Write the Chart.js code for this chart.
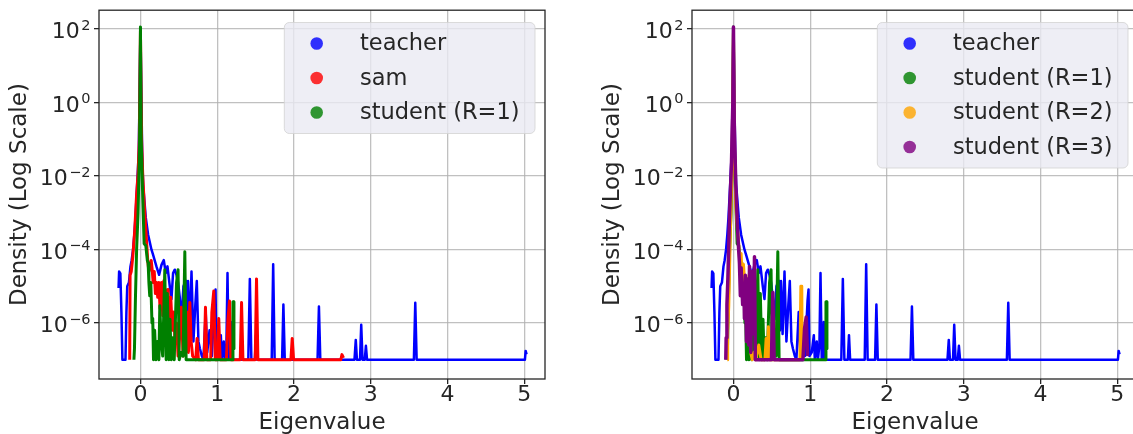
<!DOCTYPE html>
<html>
<head>
<meta charset="utf-8">
<script src="https://cdn.jsdelivr.net/npm/chart.js@4.4.0/dist/chart.umd.min.js"></script>
<style>
  html, body { margin: 0; padding: 0; background: #fff; overflow: hidden; }
  body { width: 1133px; height: 434px; position: relative; }
  canvas { position: absolute; top: 0; }
  #left { left: 0; }
  #right { left: 593px; }
</style>
</head>
<body>
<canvas id="left" width="566" height="434"></canvas>
<canvas id="right" width="566" height="434"></canvas>
<script>
const FONT = "'DejaVu Sans', sans-serif";

// tick values (y ticks as powers of ten)
const yTickExps = [2, 0, -2, -4, -6];
const xTickValues = [0, 1, 2, 3, 4, 5];

// densities are kept as log10 values
const teacherX = [-0.285, -0.278, -0.262, -0.248, -0.235, -0.195, -0.183, -0.172, -0.15, -0.13, -0.115, -0.096, -0.08, -0.065, -0.043, -0.022, 0, 0.022, 0.035, 0.069, 0.1, 0.143, 0.165, 0.208, 0.243, 0.274, 0.304, 0.33, 0.352, 0.382, 0.404, 0.425, 0.447, 0.47, 0.49, 0.512, 0.535, 0.56, 0.59, 0.605, 0.62, 0.64, 0.665, 0.69, 0.715, 0.734, 0.755, 0.775, 0.8, 0.82, 0.85, 0.87, 0.9, 0.93, 0.965, 0.978, 0.99, 1.02, 1.047, 1.06, 1.085, 1.1, 1.12, 1.134, 1.15, 1.165, 1.177, 1.19, 1.405, 1.425, 1.445, 1.49, 1.505, 1.52, 1.71, 1.729, 1.748, 1.845, 1.862, 1.88, 2.307, 2.325, 2.343, 2.788, 2.805, 2.82, 2.86, 2.876, 2.893, 2.922, 2.937, 2.952, 3.562, 3.58, 3.598, 5.008, 5.018, 5.03];
const teacherLogD = [-5.05, -4.6, -4.65, -5.7, -7.0, -7.0, -5.7, -5.0, -4.9, -4.46, -4.3, -4.0, -3.6, -3.13, -2.24, -1.35, 2.03, -1.35, -2.24, -3.13, -3.6, -4.0, -4.15, -4.46, -4.69, -4.42, -4.29, -4.64, -4.46, -5.0, -5.35, -4.64, -4.55, -4.7, -4.9, -5.3, -5.9, -5.0, -4.85, -6.2, -4.86, -6.3, -4.6, -6.5, -5.5, -4.86, -6.5, -6.7, -6.9, -7.0, -5.7, -6.8, -6.2, -6.9, -5.4, -5.09, -6.9, -6.8, -6.33, -7.0, -6.5, -7.0, -6.6, -4.64, -7.0, -7.0, -5.97, -7.0, -7.0, -4.8, -7.0, -7.0, -6.33, -7.0, -7.0, -4.4, -7.0, -7.0, -5.5, -7.0, -7.0, -5.55, -7.0, -7.0, -6.46, -7.0, -7.0, -6.05, -7.0, -7.0, -6.62, -7.0, -7.0, -5.45, -7.0, -7.0, -6.76, -6.85];

const samX = [-0.14, -0.135, -0.12, -0.1, -0.075, -0.05, -0.03, -0.015, 0, 0.015, 0.03, 0.05, 0.065, 0.08, 0.095, 0.11, 0.125, 0.14, 0.155, 0.165, 0.18, 0.195, 0.21, 0.225, 0.24, 0.255, 0.275, 0.29, 0.305, 0.32, 0.345, 0.36, 0.375, 0.395, 0.415, 0.434, 0.45, 0.47, 0.49, 0.51, 0.534, 0.555, 0.575, 0.595, 0.608, 0.625, 0.643, 0.66, 0.68, 0.72, 0.738, 0.755, 0.83, 0.847, 0.865, 0.915, 0.93, 0.955, 0.975, 1.002, 1.02, 1.038, 1.12, 1.14, 1.16, 1.178, 1.3, 1.317, 1.335, 1.495, 1.512, 1.53, 1.96, 1.977, 1.995, 2.61, 2.625, 2.645];
const samLogD = [-7.0, -4.7, -4.6, -4.2, -3.5, -2.5, -1.9, -1.0, 1.95, -1.0, -2.0, -2.8, -3.3, -3.8, -4.3, -4.6, -4.45, -4.3, -4.6, -4.9, -4.6, -5.2, -4.9, -5.3, -4.9, -5.6, -4.9, -5.8, -4.85, -5.9, -5.1, -5.09, -6.0, -5.3, -6.2, -5.7, -6.5, -6.0, -6.9, -6.4, -5.57, -6.9, -6.3, -6.6, -5.7, -6.8, -5.44, -6.5, -6.9, -7.0, -6.42, -7.0, -7.0, -5.57, -7.0, -7.0, -5.71, -5.13, -7.0, -7.0, -5.88, -7.0, -7.0, -5.9, -5.4, -7.0, -7.0, -5.44, -7.0, -7.0, -4.8, -7.0, -7.0, -6.42, -7.0, -7.0, -6.86, -6.95];

const studentR1X = [-0.085, -0.078, -0.065, -0.05, -0.031, -0.012, 0, 0.01, 0.03, 0.048, 0.07, 0.09, 0.1, 0.11, 0.121, 0.135, 0.15, 0.16, 0.17, 0.185, 0.2, 0.22, 0.24, 0.252, 0.27, 0.29, 0.317, 0.335, 0.35, 0.37, 0.385, 0.4, 0.42, 0.44, 0.47, 0.49, 0.505, 0.53, 0.555, 0.578, 0.595, 1.195, 1.205, 1.215, 1.218];
const studentR1LogD = [-7.0, -6.7, -5.3, -4.0, -3.0, -1.2, 2.05, -1.0, -2.6, -3.84, -3.9, -4.3, -4.37, -4.9, -5.26, -4.9, -6.0, -5.88, -7.0, -6.2, -7.0, -6.5, -7.0, -5.53, -6.5, -6.9, -4.55, -7.0, -5.2, -7.0, -5.9, -7.0, -6.4, -7.0, -4.9, -4.55, -7.0, -6.8, -6.9, -4.06, -7.0, -7.0, -5.42, -5.42, -6.7];

const studentR2X = [-0.08, -0.075, -0.061, -0.04, -0.02, 0, 0.012, 0.03, 0.05, 0.07, 0.085, 0.1, 0.115, 0.13, 0.15, 0.17, 0.19, 0.209, 0.225, 0.245, 0.265, 0.29, 0.33, 0.36, 0.41, 0.426, 0.44, 0.455, 0.47, 0.866, 0.878, 0.89, 0.895];
const studentR2LogD = [-7.0, -6.2, -5.53, -3.5, -1.8, 1.9, -1.0, -2.8, -3.4, -3.9, -4.5, -4.11, -4.9, -4.4, -5.0, -5.6, -4.9, -4.64, -6.8, -7.0, -6.8, -7.0, -6.6, -7.0, -7.0, -6.42, -7.0, -6.1, -7.0, -7.0, -5.0, -5.0, -7.0];

const studentR3X = [-0.1, -0.095, -0.085, -0.073, -0.05, -0.025, -0.008, 0, 0.01, 0.03, 0.05, 0.065, 0.078, 0.09, 0.1, 0.12, 0.135, 0.143, 0.155, 0.17, 0.185, 0.2, 0.209, 0.225, 0.245, 0.262, 0.274, 0.285, 0.495, 0.513, 0.53, 0.905, 0.926, 0.948, 0.965];
const studentR3LogD = [-7.0, -6.4, -5.5, -4.82, -3.0, -1.6, 0.0, 2.05, -0.5, -2.2, -3.3, -3.9, -4.37, -5.26, -4.5, -5.5, -5.0, -5.88, -4.7, -6.5, -4.8, -6.6, -4.46, -6.8, -4.6, -6.3, -4.2, -7.0, -7.0, -5.17, -7.0, -7.0, -6.15, -5.84, -6.9];

const toPoints = (xs, logs) => xs.map((x, i) => ({ x: x, y: Math.pow(10, logs[i]) }));

const line = (label, xs, logs, color, width, order) => ({
    label: label,
    data: toPoints(xs, logs),
    borderColor: color,
    backgroundColor: color,
    borderWidth: width,
    pointRadius: 0,
    tension: 0,
    fill: false,
    borderJoinStyle: "round",
    order: order,
});

const framePlugin = {
    id: "frame",
    afterDatasetsDraw(chart) {
        const { ctx, chartArea: a } = chart;
        ctx.save();
        ctx.strokeStyle = "#262626";
        ctx.lineWidth = 1.3;
        ctx.strokeRect(a.left, a.top, a.right - a.left, a.bottom - a.top);
        ctx.restore();
    },
    afterDraw(chart) {
        const { ctx, chartArea: a } = chart;
        const yScale = chart.scales.y;
        ctx.save();
        ctx.fillStyle = "#262626";
        ctx.textBaseline = "alphabetic";
        ctx.textAlign = "right";
        yTickExps.forEach((e) => {
            const py = yScale.getPixelForValue(Math.pow(10, e));
            const expText = e < 0 ? "\u2212" + Math.abs(e) : String(e);
            const xr = a.left - 8.5;
            ctx.font = "14.5px " + FONT;
            ctx.fillText(expText, xr, py + 1);
            const w = ctx.measureText(expText).width;
            ctx.font = "22px " + FONT;
            ctx.fillText("10", xr - w - 1.5, py + 9.3);
        });

        // legend box, upper right inside the axes
        const sets = chart.data.datasets;
        const bx = a.right - 260.7;
        const by = a.top + 12.3;
        const bw = 250.7;
        const bh = 42 + (sets.length - 1) * 34.5;
        ctx.beginPath();
        ctx.roundRect(bx, by, bw, bh, 5);
        ctx.fillStyle = "rgba(234, 234, 242, 0.8)";
        ctx.fill();
        ctx.strokeStyle = "rgba(210, 210, 210, 0.8)";
        ctx.lineWidth = 1;
        ctx.stroke();
        ctx.textAlign = "left";
        ctx.font = "22.5px " + FONT;
        sets.forEach((ds, i) => {
            const cy = by + 21 + i * 34.5;
            ctx.globalAlpha = 0.8;
            ctx.fillStyle = ds.borderColor;
            ctx.beginPath();
            ctx.arc(bx + 32.4, cy, 6.3, 0, Math.PI * 2);
            ctx.fill();
            ctx.globalAlpha = 1;
            ctx.fillStyle = "#262626";
            ctx.fillText(ds.label, bx + 75.7, cy + 6.7);
        });
        ctx.restore();
    },
};

const gridOpts = {
    color: "rgba(176, 176, 176, 0.8)",
    lineWidth: 1.3,
    tickLength: 5,
    tickColor: "#262626",
    drawTicks: true,
};

const makeOptions = () => ({
    responsive: false,
    animation: false,
    layout: { padding: { left: 0, right: 21, top: 5, bottom: 0 } },
    plugins: { legend: { display: false }, tooltip: { enabled: false } },
    scales: {
        x: {
            type: "linear",
            min: -0.54,
            max: 5.27,
            afterBuildTicks: (s) => {
                s.ticks = xTickValues.map((v) => ({ value: v }));
            },
            afterFit: (s) => {
                s.height = 55;
            },
            grid: gridOpts,
            border: { display: false },
            ticks: {
                autoSkip: false,
                maxRotation: 0,
                padding: 0,
                color: "#262626",
                font: { family: FONT, size: 22, lineHeight: 1.0 },
                callback: (v) => String(v),
            },
            title: {
                display: true,
                text: "Eigenvalue",
                color: "#262626",
                font: { family: FONT, size: 23, lineHeight: 0.95 },
                padding: { top: 0, bottom: 0 },
            },
        },
        y: {
            type: "logarithmic",
            min: Math.pow(10, -7.459),
            max: Math.pow(10, 2.507),
            afterBuildTicks: (s) => {
                s.ticks = yTickExps.map((e) => ({ value: Math.pow(10, e) }));
            },
            afterFit: (s) => {
                s.width = 99;
            },
            grid: gridOpts,
            border: { display: false },
            ticks: { callback: () => "" },
            title: {
                display: true,
                text: "Density (Log Scale)",
                color: "#262626",
                font: { family: FONT, size: 23, lineHeight: 1.1 },
                padding: { top: 7, bottom: 0 },
            },
        },
    },
});

new Chart(document.getElementById("left").getContext("2d"), {
    type: "line",
    data: {
        datasets: [
            line("teacher", teacherX, teacherLogD, "#0000ff", 2.5, 3),
            line("sam", samX, samLogD, "#ff0000", 3, 2),
            line("student (R=1)", studentR1X, studentR1LogD, "#008000", 3, 1),
        ],
    },
    options: makeOptions(),
    plugins: [framePlugin],
});

new Chart(document.getElementById("right").getContext("2d"), {
    type: "line",
    data: {
        datasets: [
            line("teacher", teacherX, teacherLogD, "#0000ff", 2.5, 4),
            line("student (R=1)", studentR1X, studentR1LogD, "#008000", 3, 3),
            line("student (R=2)", studentR2X, studentR2LogD, "#ffa500", 3, 2),
            line("student (R=3)", studentR3X, studentR3LogD, "#800080", 3.5, 1),
        ],
    },
    options: makeOptions(),
    plugins: [framePlugin],
});
</script>
</body>
</html>
